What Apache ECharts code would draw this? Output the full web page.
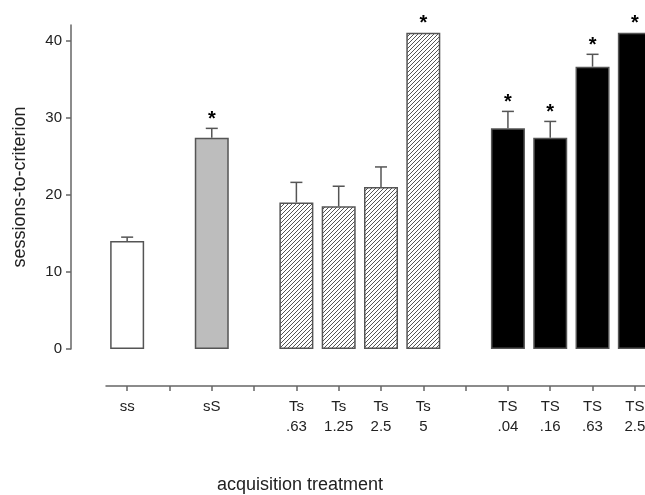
<!DOCTYPE html>
<html><head><meta charset="utf-8">
<script src="https://cdn.jsdelivr.net/npm/echarts@6/dist/echarts.min.js"></script>
<style>html,body{margin:0;padding:0;background:#fff}#c{width:645px;height:495px}</style>
</head><body><div id="c"></div>
<script>
// slots: blank strings are empty gaps between groups
const categories = ['ss','','sS','','Ts\n.63','Ts\n1.25','Ts\n2.5','Ts\n5','','TS\n.04','TS\n.16','TS\n.63','TS\n2.5'];
const values     = [14.0, null, 27.4, null, 19.0, 18.5, 21.0, 41.0, null, 28.6, 27.4, 36.6, 41.0];
const errors     = [0.5, null, 1.2, null, 2.6, 2.6, 2.6, 0, null, 2.2, 2.1, 1.6, 0];
const signif     = [0, 0, 1, 0, 0, 0, 0, 1, 0, 1, 1, 1, 1];
const groups     = ['white', null, 'gray', null, 'hatch', 'hatch', 'hatch', 'hatch', null, 'black', 'black', 'black', 'black'];
const yTicks     = [0, 10, 20, 30, 40];

const FONT = '"Liberation Sans", Arial, Helvetica, sans-serif';

// hatch pattern
const pc = document.createElement('canvas');
pc.width = 4; pc.height = 4;
const g = pc.getContext('2d');
g.fillStyle = '#fff'; g.fillRect(0, 0, 4, 4);
g.strokeStyle = '#555'; g.lineWidth = 1;
g.beginPath();
g.moveTo(0, 4); g.lineTo(4, 0);
g.moveTo(-1, 1); g.lineTo(1, -1);
g.moveTo(3, 5); g.lineTo(5, 3);
g.stroke();

const styles = {
  white: {color: '#ffffff', borderColor: '#555', borderWidth: 1.5},
  gray:  {color: '#bdbdbd', borderColor: '#555', borderWidth: 1.5},
  hatch: {color: {image: pc, repeat: 'repeat'}, borderColor: '#555', borderWidth: 1.5},
  black: {color: '#000000', borderColor: '#555', borderWidth: 1.5}
};

const barData = values.map((v, i) => v == null ? null : {value: v, itemStyle: styles[groups[i]]});
const errData = values.map((v, i) => v == null ? null : [i, v, errors[i], signif[i]]).filter(d => d);

const chart = echarts.init(document.getElementById('c'), null, {renderer: 'canvas'});
chart.setOption({
  animation: false,
  backgroundColor: '#fff',
  grid: {left: 106, top: 25, width: 550, height: 324, containLabel: false, outerBoundsMode: 'none'},
  xAxis: {
    type: 'category',
    data: categories,
    offset: 37,
    axisLine: {onZero: false, lineStyle: {color: '#666', width: 1.5}},
    axisTick: {show: true, alignWithLabel: true, interval: 0, length: 5, lineStyle: {color: '#666', width: 1.5}},
    axisLabel: {interval: 0, color: '#222', fontSize: 15, fontFamily: FONT, lineHeight: 20, margin: 11}
  },
  yAxis: {
    type: 'value',
    min: 0, max: 42, interval: 10,
    offset: 35,
    name: 'sessions-to-criterion',
    nameLocation: 'middle',
    nameGap: 42,
    nameTextStyle: {color: '#222', fontSize: 18, fontFamily: FONT},
    axisLine: {show: true, lineStyle: {color: '#666', width: 1.5}},
    axisTick: {show: true, length: 5, customValues: yTicks, lineStyle: {color: '#666', width: 1.5}},
    axisLabel: {color: '#222', fontSize: 15, fontFamily: FONT, margin: 9, customValues: yTicks},
    splitLine: {show: false}
  },
  graphic: [{
    type: 'text', left: 327 - 110, top: 476,
    style: {text: 'acquisition treatment', fill: '#222', font: '18px ' + FONT}
  }],
  series: [
    {type: 'bar', data: barData, barWidth: 34, z: 2},
    {
      type: 'custom', data: errData, z: 3,
      renderItem: (params, api) => {
        const x = api.value(0), v = api.value(1), e = api.value(2), s = api.value(3);
        const p0 = api.coord([x, v]);
        const p1 = api.coord([x, v + e]);
        const st = {stroke: '#555', lineWidth: 1.5};
        const children = [];
        if (e > 0) {
          children.push({type: 'line', shape: {x1: p0[0], y1: p0[1], x2: p1[0], y2: p1[1]}, style: st});
          children.push({type: 'line', shape: {x1: p1[0] - 6, y1: p1[1], x2: p1[0] + 6, y2: p1[1]}, style: st});
        }
        if (s) {
          children.push({type: 'text', style: {text: '*', x: p1[0], y: p1[1] - 9, align: 'center', verticalAlign: 'middle', fill: '#000', font: 'bold 20px ' + FONT}});
        }
        return {type: 'group', children};
      }
    }
  ]
});
</script></body></html>
